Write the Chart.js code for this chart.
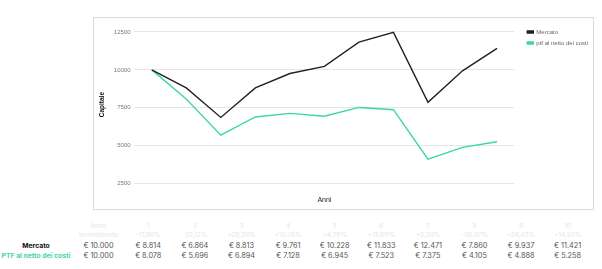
<!DOCTYPE html>
<html>
<head>
<meta charset="utf-8">
<script src="https://cdn.jsdelivr.net/npm/chart.js@4"></script>
<style>
  body { margin: 0; background: #fff; width: 602px; height: 269px; overflow: hidden; position: relative; font-family: Inter, "Open Sans", sans-serif; }
  #box { position: absolute; left: 93px; top: 17px; width: 499px; height: 191px; border: 1px solid #dcdcdc; }
  #box canvas { display: block; }
  #tbl { position: absolute; left: 0; top: 221px; border-collapse: collapse; table-layout: fixed; font-size: 7.3px; }
  #tbl td { padding: 0; height: 10px; text-align: center; white-space: nowrap; color: #555; }
  #tbl tr.head td { color: #e6e6e6; height: 9.5px; font-size: 6.5px; }
  #tbl td.lab { font-weight: 700; font-size: 6.8px; }
</style>
</head>
<body>
<div id="box"><canvas id="capitale-graph" width="499" height="191"></canvas></div>
<table id="tbl"></table>
<script>
const anni = ['0', '1', '2', '3', '4', '5', '6', '7', '8', '9', '10'];
const mercato = [10000, 8814, 6864, 8813, 9761, 10228, 11833, 12471, 7860, 9937, 11421];
const ptfNetto = [10000, 8078, 5696, 6894, 7128, 6945, 7523, 7375, 4105, 4888, 5258];
const rendimenti = ['Investimento', '-11,86%', '-22,12%', '+28,39%', '+10,76%', '+4,78%', '+15,69%', '+5,39%', '-36,97%', '+26,43%', '+14,93%'];
const yTicks = [2500, 5000, 7500, 10000, 12500];

const nero = '#222222';
const verde = '#3dd6a6';

// tabella sotto il grafico
function euro(v) {
    return '€ ' + v.toLocaleString('it-IT');
}

const tbl = document.getElementById('tbl');
const widths = [72, 53].concat(Array(10).fill(46.6));
let html = '<colgroup>' + widths.map(w => '<col style="width:' + w + 'px">').join('') + '</colgroup>';
html += '<tr class="head"><td></td>' + anni.map(a => '<td>' + (a === '0' ? 'Anno' : a) + '</td>').join('') + '</tr>';
html += '<tr class="head"><td></td>' + rendimenti.map(r => '<td>' + r + '</td>').join('') + '</tr>';
html += '<tr><td class="lab" style="color:#111">Mercato</td>' + mercato.map(v => '<td>' + euro(v) + '</td>').join('') + '</tr>';
html += '<tr><td class="lab" style="color:' + verde + '">PTF al netto dei costi</td>' + ptfNetto.map(v => '<td>' + euro(v) + '</td>').join('') + '</tr>';
tbl.innerHTML = html;

// grafico
const ctx = document.getElementById('capitale-graph');
new Chart(ctx, {
    type: 'line',
    data: {
        labels: anni,
        datasets: [
            {
                label: 'Mercato',
                data: mercato,
                borderColor: nero,
                backgroundColor: nero,
                borderWidth: 1.4,
                pointRadius: 0,
                tension: 0
            },
            {
                label: 'ptf al netto dei costi',
                data: ptfNetto,
                borderColor: verde,
                backgroundColor: verde,
                borderWidth: 1.4,
                pointRadius: 0,
                tension: 0
            }
        ]
    },
    options: {
        responsive: false,
        animation: false,
        layout: { padding: { left: 0, top: 6, right: -5, bottom: 1 } },
        plugins: {
            legend: {
                position: 'right',
                align: 'start',
                labels: {
                    boxWidth: 6,
                    boxHeight: 2,
                    padding: 5,
                    color: '#666',
                    font: { size: 6 }
                }
            },
            tooltip: { enabled: false }
        },
        scales: {
            x: {
                offset: true,
                grid: { display: false },
                border: { display: false },
                ticks: { display: false },
                title: { display: true, text: 'Anni', color: '#222', font: { size: 7 }, padding: { top: 4 } }
            },
            y: {
                min: 2500,
                max: 12920,
                afterBuildTicks: axis => { axis.ticks = yTicks.map(v => ({ value: v })); },
                grid: { color: '#e6e6e6', drawTicks: false },
                border: { display: false },
                ticks: { color: '#777', font: { size: 6 }, padding: 4, callback: v => String(v) },
                title: { display: true, text: 'Capitale', color: '#111', font: { size: 6.5, weight: 'bold' }, padding: 4 }
            },
            // spazio vuoto tra area del grafico e legenda
            gap: {
                position: 'right',
                grid: { display: false },
                border: { display: false },
                ticks: { display: false },
                afterFit: axis => { axis.width = 8; }
            }
        }
    }
});
</script>
</body>
</html>
